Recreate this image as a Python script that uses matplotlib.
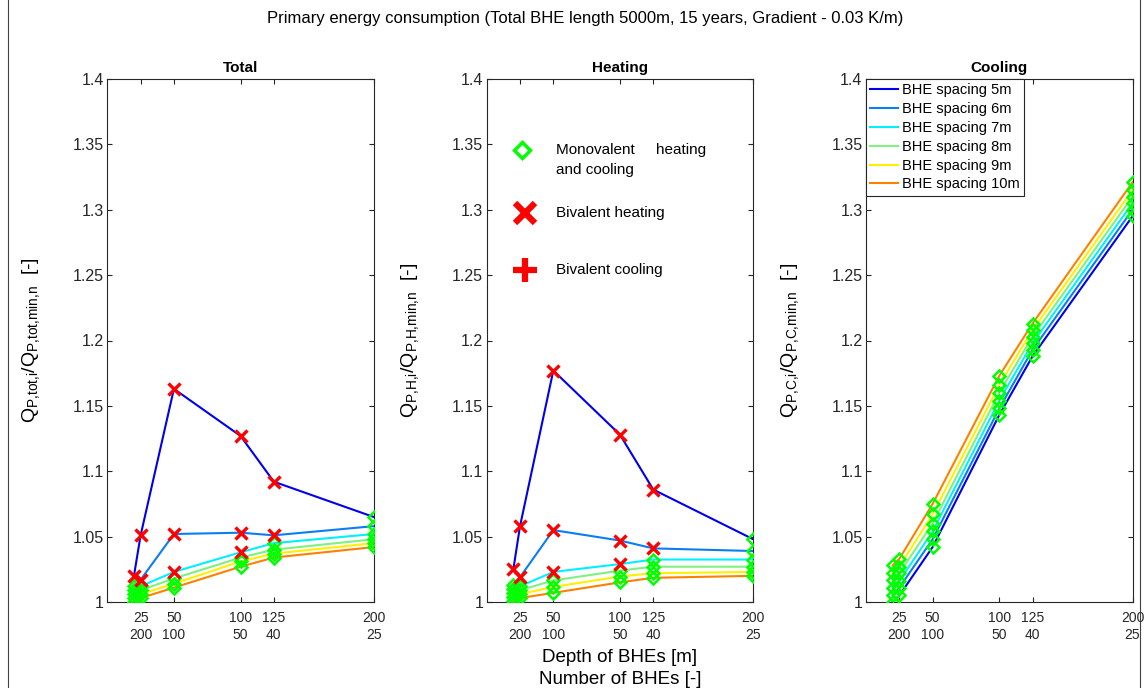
import matplotlib
matplotlib.use('Agg')
import matplotlib.pyplot as plt
from matplotlib.lines import Line2D

plt.rcParams['font.family'] = ['Liberation Sans', 'DejaVu Sans']
plt.rcParams['mathtext.fontset'] = 'custom'
plt.rcParams['mathtext.rm'] = 'Liberation Sans'
plt.rcParams['mathtext.it'] = 'Liberation Sans:italic'

# ---------------- data ----------------
depth = [20, 25, 50, 100, 125, 200]
tick_pos = [25, 50, 100, 125, 200]
tick_labels = ['25\n200', '50\n100', '100\n50', '125\n40', '200\n25']
ytick_pos = [1.0, 1.05, 1.1, 1.15, 1.2, 1.25, 1.3, 1.35, 1.4]
ytick_labels = ['1', '1.05', '1.1', '1.15', '1.2', '1.25', '1.3', '1.35', '1.4']
spacing_labels = ['BHE spacing 5m', 'BHE spacing 6m', 'BHE spacing 7m',
                  'BHE spacing 8m', 'BHE spacing 9m', 'BHE spacing 10m']
colors = ['#0000EE', '#0A7DF5', '#00F0FF', '#80F080', '#FFF000', '#FF8000']

tot_5 = [1.020, 1.051, 1.163, 1.127, 1.092, 1.065]
tot_6 = [1.012, 1.017, 1.052, 1.053, 1.051, 1.058]
tot_7 = [1.009, 1.012, 1.023, 1.038, 1.045, 1.052]
tot_8 = [1.006, 1.009, 1.018, 1.034, 1.040, 1.048]
tot_9 = [1.003, 1.006, 1.014, 1.031, 1.037, 1.045]
tot_10 = [1.000, 1.003, 1.011, 1.027, 1.034, 1.042]

heat_5 = [1.025, 1.058, 1.177, 1.128, 1.086, 1.048]
heat_6 = [1.013, 1.019, 1.055, 1.047, 1.041, 1.039]
heat_7 = [1.010, 1.012, 1.023, 1.029, 1.0325, 1.0325]
heat_8 = [1.007, 1.009, 1.0165, 1.024, 1.027, 1.027]
heat_9 = [1.004, 1.006, 1.0115, 1.0195, 1.022, 1.023]
heat_10 = [1.001, 1.003, 1.007, 1.015, 1.0185, 1.020]

cool_5 = [1.000, 1.005, 1.042, 1.143, 1.188, 1.295]
cool_6 = [1.005, 1.011, 1.048, 1.148, 1.193, 1.300]
cool_7 = [1.011, 1.016, 1.054, 1.154, 1.198, 1.305]
cool_8 = [1.017, 1.022, 1.060, 1.160, 1.203, 1.310]
cool_9 = [1.022, 1.027, 1.067, 1.166, 1.208, 1.315]
cool_10 = [1.028, 1.033, 1.075, 1.173, 1.213, 1.321]

# operation mode per point: M = monovalent, H = bivalent heating
tot_mode_5 = ['H', 'H', 'H', 'H', 'H', 'M']
tot_mode_6 = ['M', 'H', 'H', 'H', 'H', 'M']
tot_mode_7 = ['M', 'M', 'H', 'H', 'M', 'M']
heat_mode_5 = ['H', 'H', 'H', 'H', 'H', 'M']
heat_mode_6 = ['M', 'H', 'H', 'H', 'H', 'M']
heat_mode_7 = ['M', 'M', 'H', 'H', 'M', 'M']
mono = ['M'] * 6

panels = [
    ('Total', [tot_5, tot_6, tot_7, tot_8, tot_9, tot_10],
     [tot_mode_5, tot_mode_6, tot_mode_7, mono, mono, mono],
     r'$\mathregular{Q_{P{,}tot{,}i}/Q_{P{,}tot{,}min{,}n}}$  [-]'),
    ('Heating', [heat_5, heat_6, heat_7, heat_8, heat_9, heat_10],
     [heat_mode_5, heat_mode_6, heat_mode_7, mono, mono, mono],
     r'$\mathregular{Q_{P{,}H{,}i}/Q_{P{,}H{,}min{,}n}}$  [-]'),
    ('Cooling', [cool_5, cool_6, cool_7, cool_8, cool_9, cool_10],
     [mono] * 6,
     r'$\mathregular{Q_{P{,}C{,}i}/Q_{P{,}C{,}min{,}n}}$  [-]'),
]

# ---------------- figure ----------------
W, H = 1146, 688
fig = plt.figure(figsize=(W / 100, H / 100), dpi=100)
ax_left = [107.3, 486.7, 866.0]
ax_w = 266.5
ax_top, ax_bot = 79.0, 602.0

axes_color = '#262626'
green = '#00FF00'
red = '#FF0000'

axes = []
for (title, series, modes, ylab), left in zip(panels, ax_left):
    ax = fig.add_axes([left / W, 1 - ax_bot / H, ax_w / W, (ax_bot - ax_top) / H])
    axes.append(ax)
    for vals, col, lab in zip(series, colors, spacing_labels):
        ax.plot(depth, vals, color=col, lw=1.5, zorder=2, label=lab)
    for vals, mode in zip(series, modes):
        xd = [d for d, m in zip(depth, mode) if m == 'M']
        yd = [v for v, m in zip(vals, mode) if m == 'M']
        ax.plot(xd, yd, ls='none', marker='D', ms=6, mfc='none', mec=green,
                mew=1.8, zorder=3)
    for vals, mode in zip(series, modes):
        xh = [d for d, m in zip(depth, mode) if m == 'H']
        yh = [v for v, m in zip(vals, mode) if m == 'H']
        ax.plot(xh, yh, ls='none', marker='x', ms=8.5, mec=red, mew=2.4, zorder=4)

    ax.set_xlim(0, 200)
    ax.set_ylim(1.0, 1.4)
    ax.set_xticks(tick_pos)
    ax.set_xticklabels(tick_labels, fontsize=10, color=axes_color)
    for t in ax.get_xticklabels():
        t.set_linespacing(1.25)
    ax.set_yticks(ytick_pos)
    ax.set_yticklabels(ytick_labels, fontsize=11.5, color=axes_color)
    ax.tick_params(axis='both', direction='in', length=3.6, width=0.8,
                   color=axes_color, top=True, right=True)
    ax.tick_params(axis='x', pad=6.5)
    ax.tick_params(axis='y', pad=2.5)
    for s in ax.spines.values():
        s.set_color(axes_color)
        s.set_linewidth(0.8)
    ax.set_title(title, fontsize=11, fontweight='bold', pad=5)
    ax.set_ylabel(ylab, fontsize=14)
    ax.yaxis.set_label_coords(-0.245, 0.5)

# legend of spacings (Cooling panel)
leg = axes[2].legend(loc='upper left', borderaxespad=0, fontsize=10.5,
                     frameon=True, fancybox=False, edgecolor='#262626',
                     framealpha=1, handlelength=1.9, handletextpad=0.25,
                     labelspacing=0.33, borderpad=0.3)
leg.get_frame().set_linewidth(0.8)

# key of operating modes (Heating panel)
hax = axes[1]
tr = hax.transAxes
hax.add_line(Line2D([0.133], [0.864], transform=tr, ls='none', marker='D', ms=8,
                    mfc='none', mec=green, mew=2.5, clip_on=False))
hax.add_line(Line2D([0.144], [0.744], transform=tr, ls='none', marker='x', ms=14,
                    mec=red, mew=4.5, clip_on=False))
hax.add_line(Line2D([0.144], [0.635], transform=tr, ls='none', marker='+', ms=17,
                    mec=red, mew=4.5, clip_on=False))
hax.text(0.26, 0.845, 'Monovalent     heating\nand cooling', transform=tr,
         ha='left', va='center', fontsize=11, linespacing=1.6)
hax.text(0.26, 0.744, 'Bivalent heating', transform=tr, ha='left', va='center',
         fontsize=11)
hax.text(0.26, 0.635, 'Bivalent cooling', transform=tr, ha='left', va='center',
         fontsize=11)

# texts
fig.text(585 / W, 1 - 18 / H,
         'Primary energy consumption (Total BHE length 5000m, 15 years, Gradient - 0.03 K/m)',
         ha='center', va='center', fontsize=12)
cx = (ax_left[1] + ax_w / 2) / W
fig.text(cx, 1 - 657 / H, 'Depth of BHEs [m]', ha='center', va='center', fontsize=13.5)
fig.text(cx, 1 - 680 / H, 'Number of BHEs [-]', ha='center', va='center', fontsize=13.5)

# outer frame lines
fig.add_artist(Line2D([8 / W, 8 / W], [0, 1], transform=fig.transFigure,
                      color='#404040', lw=0.8))
fig.add_artist(Line2D([1140 / W, 1140 / W], [0, 1], transform=fig.transFigure,
                      color='#404040', lw=0.8))

fig.savefig('out.png', dpi=100)
